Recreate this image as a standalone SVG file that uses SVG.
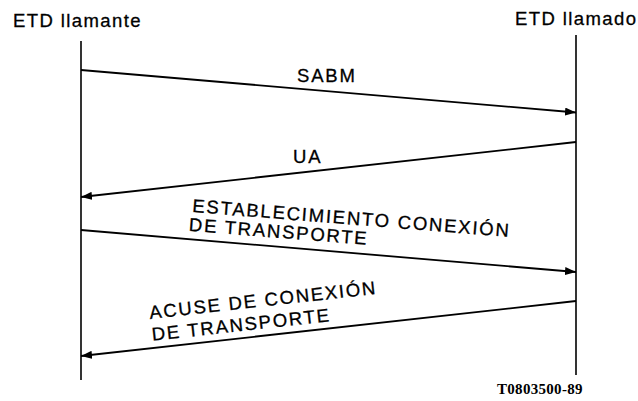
<svg xmlns="http://www.w3.org/2000/svg" width="638" height="401" viewBox="0 0 638 401">
<defs>
<marker id="ah" viewBox="0 0 11 8" refX="11" refY="4" markerWidth="11" markerHeight="8" markerUnits="userSpaceOnUse" orient="auto">
<path d="M0,0 L11,4 L0,8 Z" fill="#000"/>
</marker>
<style>
.t{font-family:"Liberation Sans",Arial,sans-serif;font-size:18.5px;fill:#000;stroke:#000;stroke-width:0.3px;letter-spacing:1.8px}
.h{font-family:"Liberation Sans",Arial,sans-serif;font-size:18.5px;fill:#000;stroke:#000;stroke-width:0.3px;letter-spacing:1.4px}
.ref{font-family:"Liberation Serif","Times New Roman",serif;font-size:15px;font-weight:bold;fill:#000;letter-spacing:0.3px}
.life{stroke:#000;stroke-width:1.6;fill:none}
.msg{stroke:#000;stroke-width:1.8;fill:none;marker-end:url(#ah)}
</style>
</defs>
<rect width="638" height="401" fill="#fff"/>
<g id="etd-llamante">
<text class="h" x="13" y="27">ETD llamante</text>
<line class="life" x1="81" y1="41" x2="81" y2="380"/>
</g>
<g id="etd-llamado">
<text class="h" x="515" y="25">ETD llamado</text>
<line class="life" x1="576" y1="35" x2="576" y2="375"/>
</g>
<g id="connectors">
<line class="msg" x1="81" y1="70" x2="576" y2="112.5"/>
<line class="msg" x1="576" y1="142" x2="81" y2="197"/>
<line class="msg" x1="81" y1="230" x2="576" y2="272"/>
<line class="msg" x1="576" y1="301" x2="81" y2="356"/>
</g>
<g id="labels">
<text class="t" x="297" y="82">SABM</text>
<text class="t" x="293" y="163">UA</text>
<g transform="rotate(4.5 192 212)">
<text class="t" x="192" y="212">ESTABLECIMIENTO CONEXIÓN</text>
<text class="t" x="190" y="231">DE TRANSPORTE</text>
</g>
<g transform="rotate(-6.3 150 319)">
<text class="t" x="150" y="319">ACUSE DE CONEXIÓN</text>
<text class="t" x="150" y="341">DE TRANSPORTE</text>
</g>
<text class="ref" x="497" y="394">T0803500-89</text>
</g>
</svg>
